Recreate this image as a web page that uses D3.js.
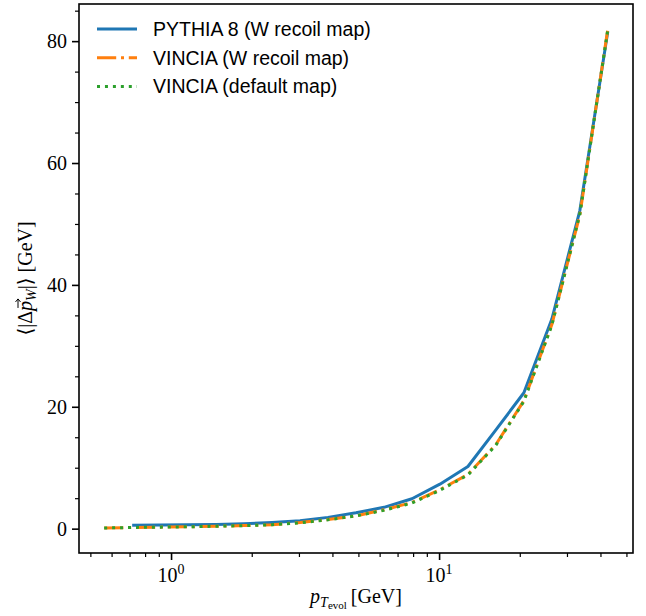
<!DOCTYPE html>
<html>
<head>
<meta charset="utf-8">
<script src="https://cdn.jsdelivr.net/npm/d3@7"></script>
<style>
    body { margin: 0; background: #fff; }
    svg { display: block; }
</style>
</head>
<body>
<div id="chart"></div>
<script>
// Mean |delta p_W| against the evolution pT, three shower settings.

// x values (bin centres, GeV)
const ptEvol = [0.563, 0.716, 0.910, 1.157, 1.472, 1.872, 2.381, 3.028, 3.850, 4.897,
    6.228, 7.921, 10.07, 12.81, 16.29, 20.72, 26.35, 33.51, 42.61];

// series values (GeV), null = no point in that bin
const pythiaW = [null, 0.55, 0.6, 0.65, 0.7, 0.8, 1.0, 1.3, 1.85, 2.6,
    3.5, 4.9, 7.3, 10.2, 16.2, 22.3, 34.4, 52.2, 81.6];
const vinciaW = [0.1, 0.2, 0.25, 0.3, 0.4, 0.5, 0.65, 1.0, 1.5, 2.1,
    3.1, 4.3, 6.4, 8.9, 13.8, 21.0, 33.5, 51.5, 82.0];
const vinciaDefault = [0.1, 0.2, 0.25, 0.3, 0.4, 0.5, 0.65, 0.95, 1.45, 2.1,
    3.0, 4.2, 6.3, 8.8, 13.7, 20.9, 33.4, 51.6, 81.9];

const seriesNames = ["PYTHIA 8 (W recoil map)", "VINCIA (W recoil map)", "VINCIA (default map)"];

// tick values
const yMajor = [0, 20, 40, 60, 80];
const yMinor = [5, 10, 15, 25, 30, 35, 45, 50, 55, 65, 70, 75, 85];
const xMajor = [1, 10];
const xMajorExp = ["0", "1"];
const xMinor = [0.5, 0.6, 0.7, 0.8, 0.9, 2, 3, 4, 5, 6, 7, 8, 9, 20, 30, 40, 50];

function drawChart() {
    const width = 646;
    const height = 616;
    const left = 79, right = 633, top = 4, bottom = 553;

    const svg = d3.select("#chart")
        .append("svg")
        .attr("width", width)
        .attr("height", height);

    // log x with matplotlib style 5% margins (in log space)
    const lx = ptEvol.map(v => Math.log10(v));
    const lxMin = d3.min(lx), lxMax = d3.max(lx);
    const lxPad = (lxMax - lxMin) * 0.05;
    const x = d3.scaleLog()
        .domain([Math.pow(10, lxMin - lxPad), Math.pow(10, lxMax + lxPad)])
        .range([left, right]);

    const allY = pythiaW.concat(vinciaW, vinciaDefault).filter(v => v !== null);
    const yMin = d3.min(allY), yMax = d3.max(allY);
    const yPad = (yMax - yMin) * 0.05;
    const y = d3.scaleLinear()
        .domain([yMin - yPad, yMax + yPad])
        .range([bottom, top]);

    const serif = "'Liberation Serif', 'DejaVu Serif', serif";

    // lines
    const series = [
        { name: seriesNames[0], values: pythiaW, color: "#1f77b4", dash: null },
        { name: seriesNames[1], values: vinciaW, color: "#ff7f0e", dash: "19.2,4.8,3,4.8" },
        { name: seriesNames[2], values: vinciaDefault, color: "#2ca02c", dash: "3,4.95" }
    ];

    const line = d3.line()
        .defined(d => d[1] !== null)
        .x(d => x(d[0]))
        .y(d => y(d[1]));

    const plot = svg.append("g");
    series.forEach(s => {
        plot.append("path")
            .datum(ptEvol.map((v, i) => [v, s.values[i]]))
            .attr("d", line)
            .attr("fill", "none")
            .attr("stroke", s.color)
            .attr("stroke-width", 3)
            .attr("stroke-dasharray", s.dash)
            .attr("stroke-linejoin", "round");
    });

    // axes (ticks only, spines drawn separately)
    const xAxisMajor = svg.append("g")
        .attr("transform", `translate(0,${bottom})`)
        .call(d3.axisBottom(x).tickValues(xMajor).tickSize(7).tickFormat(""));
    const xAxisMinor = svg.append("g")
        .attr("transform", `translate(0,${bottom})`)
        .call(d3.axisBottom(x).tickValues(xMinor).tickSize(4).tickFormat(""));
    const yAxisMajor = svg.append("g")
        .attr("transform", `translate(${left},0)`)
        .call(d3.axisLeft(y).tickValues(yMajor).tickSize(7).tickPadding(5));
    const yAxisMinor = svg.append("g")
        .attr("transform", `translate(${left},0)`)
        .call(d3.axisLeft(y).tickValues(yMinor).tickSize(4).tickFormat(""));

    [xAxisMajor, xAxisMinor, yAxisMajor, yAxisMinor].forEach(a => {
        a.select(".domain").remove();
    });
    [xAxisMajor, yAxisMajor].forEach(a => a.selectAll(".tick line").attr("stroke", "#000").attr("stroke-width", 1.6));
    [xAxisMinor, yAxisMinor].forEach(a => a.selectAll(".tick line").attr("stroke", "#000").attr("stroke-width", 1.2));

    yAxisMajor.attr("font-family", serif).attr("font-size", 20);
    yAxisMajor.selectAll(".tick text")
        .style("font-family", serif)
        .style("font-size", "20px")
        .attr("fill", "#000")
        .attr("dy", "0.34em");

    // x tick labels as 10^n
    xMajor.forEach((v, i) => {
        const t = svg.append("text")
            .attr("x", x(v))
            .attr("y", 582)
            .attr("text-anchor", "middle")
            .attr("font-family", serif)
            .attr("font-size", 20)
            .attr("fill", "#000");
        t.append("tspan").text("10");
        t.append("tspan").attr("font-size", 14).attr("dy", -8).text(xMajorExp[i]);
    });

    // spines
    svg.append("rect")
        .attr("x", left)
        .attr("y", top)
        .attr("width", right - left)
        .attr("height", bottom - top)
        .attr("fill", "none")
        .attr("stroke", "#000")
        .attr("stroke-width", 1.6);

    // x label
    const xl = svg.append("text")
        .attr("x", (left + right) / 2)
        .attr("y", 603)
        .attr("text-anchor", "middle")
        .attr("font-family", serif)
        .attr("font-size", 20)
        .attr("fill", "#000");
    xl.append("tspan").attr("font-style", "italic").text("p");
    xl.append("tspan").attr("font-style", "italic").attr("font-size", 14).attr("dy", 4).text("T");
    xl.append("tspan").attr("font-size", 11).attr("dy", 2).text("evol");
    xl.append("tspan").attr("dy", -6).text("\u2009[GeV]");

    // y label, the vector arrow over p is drawn by hand
    const ylg = svg.append("g")
        .attr("transform", `translate(32,${(top + bottom) / 2}) rotate(-90)`);
    const yl = ylg.append("text")
        .attr("text-anchor", "middle")
        .attr("font-family", serif)
        .attr("font-size", 20)
        .attr("fill", "#000");
    yl.append("tspan").text("\u27E8|\u0394");
    yl.append("tspan").attr("font-style", "italic").text("p");
    yl.append("tspan").attr("font-style", "italic").attr("font-size", 14).attr("dy", 4).text("W");
    yl.append("tspan").attr("dy", -4).text("|\u27E9 [GeV]");

    const node = yl.node();
    const p0 = node.getStartPositionOfChar(3);
    const p1 = node.getEndPositionOfChar(3);
    const ax0 = p0.x + 3, ax1 = p1.x + 2, ay = -14;
    ylg.append("path")
        .attr("d", `M${ax0},${ay} L${ax1},${ay} M${ax1 - 3},${ay - 2.5} L${ax1},${ay} L${ax1 - 3},${ay + 2.5}`)
        .attr("fill", "none")
        .attr("stroke", "#000")
        .attr("stroke-width", 1);

    // legend
    const legend = svg.append("g")
        .attr("transform", `translate(${left + 18},${top + 25})`);
    series.forEach((s, i) => {
        const row = legend.append("g").attr("transform", `translate(0,${i * 28.7})`);
        row.append("line")
            .attr("x1", 0).attr("x2", 40)
            .attr("y1", 0).attr("y2", 0)
            .attr("stroke", s.color)
            .attr("stroke-width", 3)
            .attr("stroke-dasharray", s.dash);
        row.append("text")
            .attr("x", 56)
            .attr("y", 0)
            .attr("dy", "0.35em")
            .attr("font-family", "'Liberation Sans', Arial, sans-serif")
            .attr("font-size", 19.5)
            .attr("fill", "#000")
            .text(s.name);
    });
}

drawChart();
</script>
</body>
</html>
